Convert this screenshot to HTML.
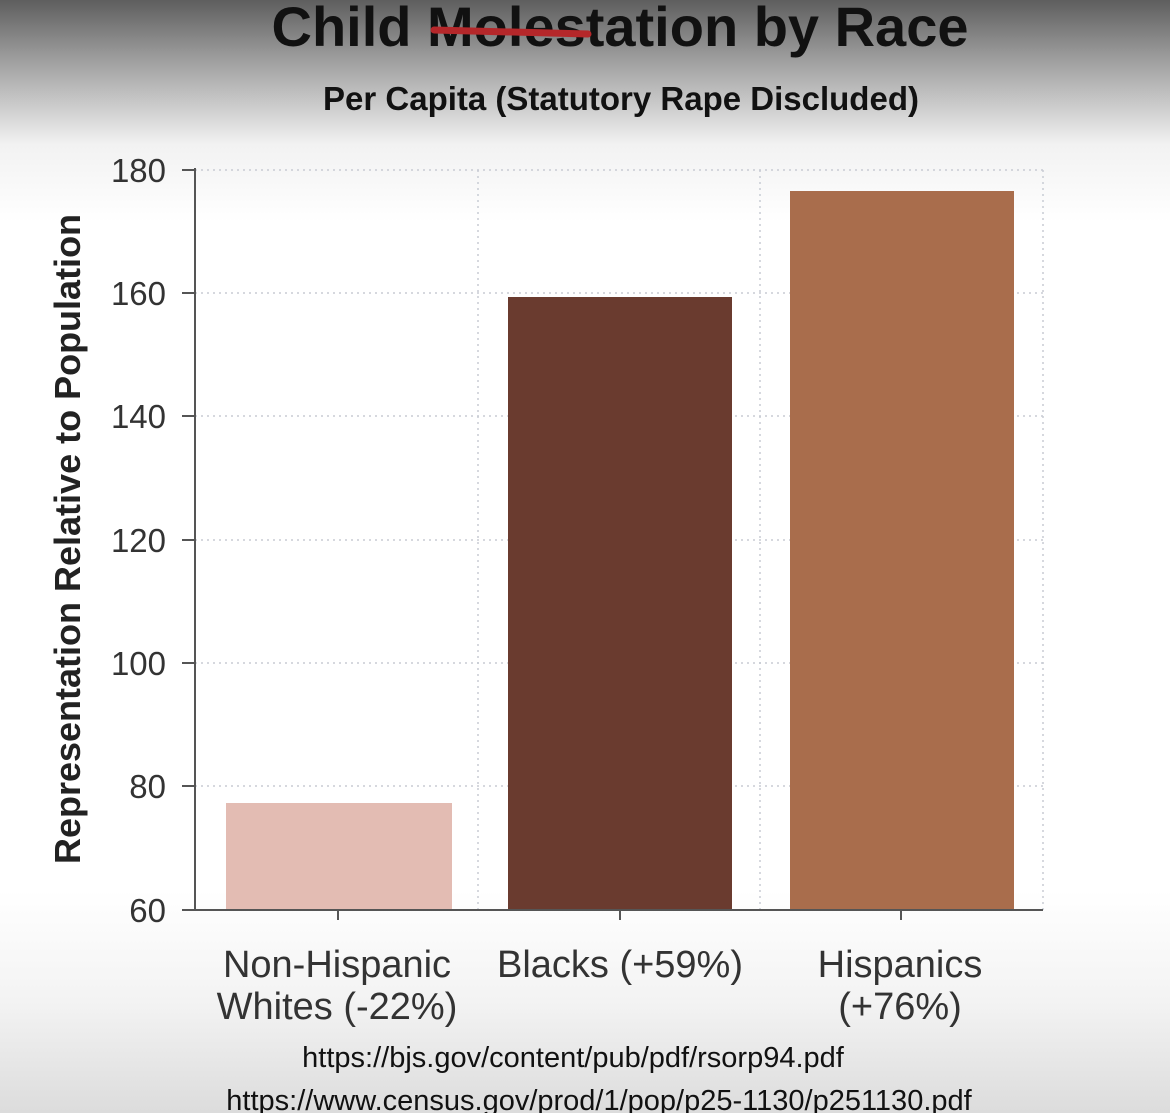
<!DOCTYPE html>
<html><head><meta charset="utf-8"><style>
html,body{margin:0;padding:0;width:1170px;height:1113px;overflow:hidden;background:#fff}
svg{display:block;font-family:"Liberation Sans",Arial,sans-serif}
</style></head><body>
<svg width="1170" height="1113" viewBox="0 0 1170 1113" xmlns="http://www.w3.org/2000/svg">
<defs>
<linearGradient id="bg" x1="0" y1="0" x2="0" y2="1">
<stop offset="0" stop-color="#5e5e5e"/>
<stop offset="0.05" stop-color="#9a9a9a"/>
<stop offset="0.13" stop-color="#f2f2f2"/>
<stop offset="0.2" stop-color="#ffffff"/>
<stop offset="0.8" stop-color="#ffffff"/>
<stop offset="0.9" stop-color="#f3f3f3"/>
<stop offset="1" stop-color="#dcdcdc"/>
</linearGradient>
</defs>
<rect width="1170" height="1113" fill="url(#bg)"/>
<text x="620" y="46" text-anchor="middle" font-size="56" font-weight="bold" fill="#111">Child Molestation by Race</text>
<line x1="434" y1="30" x2="588" y2="34" stroke="#b5272a" stroke-width="7" stroke-linecap="round"/>
<text x="621" y="110" text-anchor="middle" font-size="33" font-weight="bold" fill="#111">Per Capita (Statutory Rape Discluded)</text>
<g stroke="#c8ccd4" stroke-width="1.5" stroke-dasharray="2,4">
<line x1="195" y1="170" x2="1043" y2="170"/>
<line x1="195" y1="293" x2="1043" y2="293"/>
<line x1="195" y1="416" x2="1043" y2="416"/>
<line x1="195" y1="540" x2="1043" y2="540"/>
<line x1="195" y1="663" x2="1043" y2="663"/>
<line x1="195" y1="786" x2="1043" y2="786"/>
<line x1="478" y1="170" x2="478" y2="910"/>
<line x1="760" y1="170" x2="760" y2="910"/>
<line x1="1043" y1="170" x2="1043" y2="910"/>
</g>
<rect x="226" y="803" width="226" height="107" fill="#e3bcb3"/>
<rect x="508" y="297" width="224" height="613" fill="#6a3b2f"/>
<rect x="790" y="191" width="224" height="719" fill="#a96d4c"/>
<g stroke="#555" stroke-width="2">
<line x1="195" y1="168" x2="195" y2="911"/>
<line x1="195" y1="910" x2="1043" y2="910"/>
<line x1="182" y1="170" x2="195" y2="170"/>
<line x1="182" y1="293" x2="195" y2="293"/>
<line x1="182" y1="416" x2="195" y2="416"/>
<line x1="182" y1="540" x2="195" y2="540"/>
<line x1="182" y1="663" x2="195" y2="663"/>
<line x1="182" y1="786" x2="195" y2="786"/>
<line x1="182" y1="910" x2="195" y2="910"/>
<line x1="338" y1="910" x2="338" y2="920"/>
<line x1="620" y1="910" x2="620" y2="920"/>
<line x1="901" y1="910" x2="901" y2="920"/>
</g>
<g font-size="33" fill="#333" text-anchor="end">
<text x="166" y="182">180</text>
<text x="166" y="305">160</text>
<text x="166" y="428">140</text>
<text x="166" y="552">120</text>
<text x="166" y="675">100</text>
<text x="166" y="798">80</text>
<text x="166" y="922">60</text>
</g>
<text transform="translate(80,539) rotate(-90)" text-anchor="middle" font-size="36" font-weight="bold" fill="#222">Representation Relative to Population</text>
<g font-size="38" fill="#333" text-anchor="middle">
<text x="337" y="977">Non-Hispanic</text>
<text x="337" y="1019">Whites (-22%)</text>
<text x="620" y="977">Blacks (+59%)</text>
<text x="900" y="977">Hispanics</text>
<text x="900" y="1019">(+76%)</text>
</g>
<g font-size="29" fill="#111" text-anchor="middle">
<text x="573" y="1067">https://bjs.gov/content/pub/pdf/rsorp94.pdf</text>
<text x="599" y="1110">https://www.census.gov/prod/1/pop/p25-1130/p251130.pdf</text>
</g>
</svg>
</body></html>
